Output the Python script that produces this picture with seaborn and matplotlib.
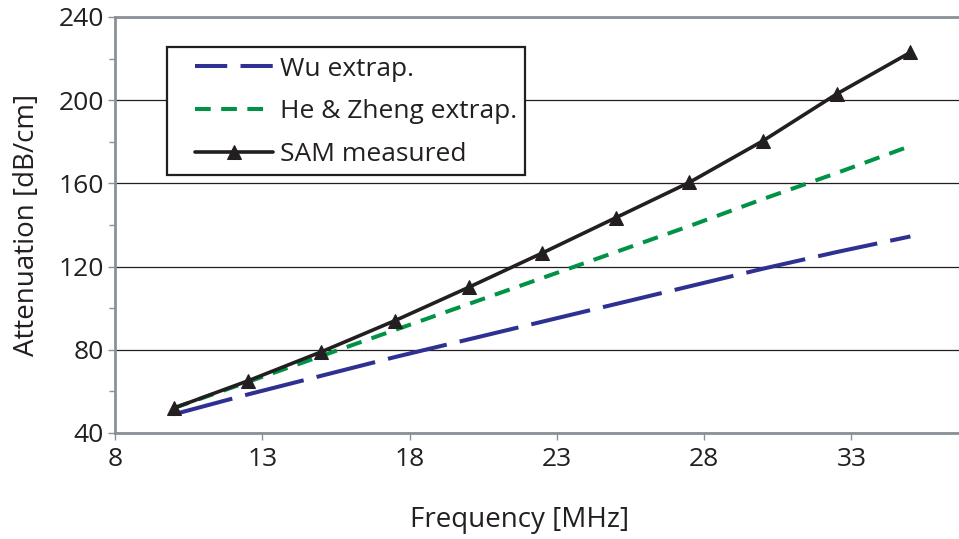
import numpy as np
import pandas as pd
import matplotlib
matplotlib.use("Agg")
import matplotlib.pyplot as plt
import matplotlib.patches as mpatches
import seaborn as sns
from matplotlib.ticker import MultipleLocator

freq = [10, 12.5, 15, 17.5, 20, 22.5, 25, 27.5, 30, 32.5, 35]
wu = [49, 58.5, 67.5, 76.5, 85, 93.5, 102, 110.5, 119, 127, 134.5]
he_zheng = [52, 64.5, 77, 89.5, 102, 114.5, 127, 139.5, 152.5, 165, 178]
sam = [52, 65, 79, 94, 110, 126.5, 143.5, 160.5, 180.5, 203, 223]
x_ticks = [8, 13, 18, 23, 28, 33]
y_ticks = [40, 80, 120, 160, 200, 240]

sns.set_theme(style="white")
plt.rcParams['font.family'] = ['Open Sans', 'DejaVu Sans']

W, H = 959, 539
fig = plt.figure(figsize=(9.59, 5.39), dpi=100)
ax = fig.add_axes([115/W, 1-433/H, 844/W, (433-17)/H])

df = pd.DataFrame({"f": freq, "wu": wu, "hz": he_zheng, "sam": sam})
sns.lineplot(data=df, x="f", y="wu", ax=ax, color="#2e3192", lw=2.9,
             label="Wu extrap.")
ax.lines[-1].set_dashes([15.0, 3.3])
sns.lineplot(data=df, x="f", y="hz", ax=ax, color="#009245", lw=2.9,
             label="He & Zheng extrap.")
ax.lines[-1].set_dashes([3.9, 2.6])
sns.lineplot(data=df, x="f", y="sam", ax=ax, color="#231f20", lw=2.6,
             marker="^", markersize=10, markeredgecolor="#231f20",
             label="SAM measured")

ax.set_xlim(8, 36.65)
ax.set_ylim(40, 240)
ax.set_xticks(x_ticks)
ax.set_yticks(y_ticks)
ax.yaxis.set_minor_locator(MultipleLocator(20))
ax.grid(axis="y", which="major", color="#231f20", lw=0.9)
ax.set_axisbelow(True)

spine_c = "#8a9096"
for s in ["left", "bottom", "top"]:
    ax.spines[s].set_color(spine_c)
    ax.spines[s].set_linewidth(2)
ax.spines["right"].set_visible(False)

ax.tick_params(axis="both", which="major", direction="out", length=5, width=1,
               color=spine_c, labelsize=19, labelcolor="#231f20", pad=3)
ax.tick_params(axis="x", which="major", pad=5)
ax.tick_params(axis="y", which="minor", direction="out", length=4, width=1,
               color=spine_c, left=True)
ax.tick_params(axis="x", bottom=True)
ax.tick_params(axis="y", left=True)

ax.set_xlabel("Frequency [MHz]", fontsize=20, color="#231f20", va="top")
ax.xaxis.set_label_coords((520-115)/844, -0.175)
ax.set_ylabel("Attenuation [dB/cm]", fontsize=20, color="#231f20", va="center")
ax.yaxis.set_label_coords(-(115-27)/844, 0.5)

# legend frame drawn separately (pixel box 167..525 x 47..175)
frame = mpatches.Rectangle(((167-115)/844, (433-175)/416), (525-167)/844, (175-47)/416,
                           transform=ax.transAxes, facecolor="white",
                           edgecolor="#231f20", lw=1.6, zorder=4)
ax.add_patch(frame)

leg = ax.legend(loc="upper left", bbox_to_anchor=((195-115)/844, (433-56.5)/416),
                fontsize=19, frameon=False, borderaxespad=0, borderpad=0,
                handlelength=2.95, handletextpad=0.27, labelspacing=0.68)
leg.set_zorder(5)
leg.get_lines()[0].set_dashes([8.0, 3.3])
for t in leg.get_texts():
    t.set_color("#231f20")

fig.savefig("out.png", dpi=100)
